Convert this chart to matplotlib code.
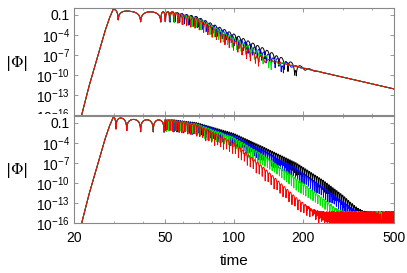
import numpy as np
import matplotlib.pyplot as plt
from matplotlib.patches import Rectangle
from matplotlib.ticker import FixedLocator, NullFormatter

plt.rcParams['font.family'] = ['Liberation Sans', 'DejaVu Sans']
plt.rcParams['mathtext.fontset'] = 'custom'
plt.rcParams['mathtext.rm'] = 'Liberation Sans'
plt.rcParams['mathtext.it'] = 'Liberation Sans:italic'

# values (log10 of |Phi| at a few times)
x_ticks = [20, 50, 100, 200, 500]
y_ticks = [1e-16, 1e-13, 1e-10, 1e-7, 1e-4, 0.1]
y_labels = [r'$10^{-16}$', r'$10^{-13}$', r'$10^{-10}$', r'$10^{-7}$', r'$10^{-4}$', '0.1']

series = ['black', 'blue', 'green', 'red']
line_colors = ['black', '#0000ff', '#00e600', '#ff0000']

# common initial pulse
early_t = [20.0, 21.6, 23.0, 25.1, 27.0, 28.5, 29.7, 35.0, 45.0]
early_lv = [-20.5, -16.0, -12.3, -7.8, -4.0, -1.6, -0.15, -0.5, -0.6]

# dips of the first slow ringing
top_dips = [31.2, 39.1, 47.9]
bot_dips = [30.5, 34.0, 39.1, 44.4, 49.5]

# envelope of the fast ringing
late_t = [54, 69, 100, 134, 187, 245, 300, 360, 500]
top_lv = {
    'black': [-0.55, -1.3, -3.9, -6.0, -8.7, -10.8, -12.5, -14.0, -17.0],
    'blue': [-0.6, -1.4, -4.2, -6.5, -9.3, -11.6, -13.4, -15.0, -18.5],
    'green': [-0.6, -1.5, -4.5, -7.0, -10.0, -12.5, -14.5, -16.2, -20.0],
    'red': [-0.6, -1.6, -4.9, -7.6, -10.8, -13.5, -15.6, -17.5, -21.5],
}
bot_lv = {
    'black': [-0.55, -1.0, -2.6, -4.6, -7.0, -9.6, -11.9, -14.4, -20.0],
    'blue': [-0.6, -1.1, -2.9, -5.1, -7.8, -10.6, -12.8, -15.3, -21.0],
    'green': [-0.6, -1.2, -3.2, -5.8, -9.3, -12.3, -14.8, -17.3, -23.0],
    'red': [-0.6, -1.3, -4.0, -7.6, -12.2, -15.3, -18.0, -20.5, -26.0],
}
# late-time power-law tail (top panel only)
tail_t = [60, 134, 190, 500]
tail_lv = [-4.9, -7.6, -8.8, -12.1]

# ringing rate per unit log(time)
top_k = [66, 68, 70, 73]
bot_k = [160, 145, 130, 105]
noise_freq = [37.3, 41.7, 29.9, 53.1]

t = np.geomspace(20, 500, 8000)
lt = np.log(t)


def envelope(lv):
    return 10 ** np.interp(lt, np.log(early_t + late_t), early_lv + lv)


def phase(dips, k):
    kt = [20.0, 29.7] + dips
    kp = [0.0, 0.0] + [np.pi / 2 + np.pi * i for i in range(len(dips))]
    p = np.interp(lt, np.log(kt), kp)
    after = t > dips[-1]
    p[after] = kp[-1] + k * np.log(t[after] / dips[-1])
    return p


tail = np.where(t > 60, 10 ** np.interp(lt, np.log(tail_t), tail_lv), 0.0)

fig = plt.figure(figsize=(4.07, 2.73), dpi=100)
ax1 = fig.add_axes([0.1818, 0.5788, 0.7862, 0.3919])
ax2 = fig.add_axes([0.1818, 0.1832, 0.7862, 0.3919])

for i, name in enumerate(series):
    env = envelope(top_lv[name])
    ph = phase(top_dips, top_k[i])
    v = np.abs(env * np.cos(ph) + tail) + 0.03 * env
    ax1.plot(t, v, color=line_colors[i], lw=0.7)

    env = envelope(bot_lv[name])
    ph = phase(bot_dips, bot_k[i])
    a = noise_freq[i]
    jitter = np.abs(np.sin(a * t + i) * np.cos(1.7 * a * t + 2 * i)) ** 0.5
    noise = np.where(t > 100, 10 ** (-16.6 + 2.3 * jitter), 0.0)
    v = env * (np.abs(np.cos(ph)) + 0.015) + noise
    ax2.plot(t, v, color=line_colors[i], lw=0.7)

for ax in (ax1, ax2):
    ax.set_xscale('log')
    ax.set_yscale('log')
    ax.set_xlim(20, 500)
    ax.set_ylim(1e-16, 1)
    ax.xaxis.set_major_locator(FixedLocator(x_ticks))
    ax.yaxis.set_major_locator(FixedLocator(y_ticks))
    ax.yaxis.set_minor_locator(FixedLocator([]))
    ax.set_yticklabels(y_labels)
    ax.xaxis.set_minor_formatter(NullFormatter())
    ax.tick_params(which='both', direction='in', top=True, right=True,
                   color='#888888', labelsize=10)
    ax.tick_params(which='major', length=3, width=0.6)
    ax.tick_params(which='minor', length=1.5, width=0.5)
    ax.tick_params(axis='y', pad=3)
    ax.tick_params(axis='x', pad=6)
    for sp in ax.spines.values():
        sp.set_color('#888888')
        sp.set_linewidth(0.8)

ax1.set_xticklabels([])
ax2.set_xticklabels([str(x) for x in x_ticks])
ax2.set_xlabel('time', fontsize=11, labelpad=6)

# the lower plot covers the lowest label of the upper one
ax2.add_patch(Rectangle((0, 0), 0.178, 0.584, transform=fig.transFigure,
                        facecolor='white', edgecolor='none', clip_on=False, zorder=1))

fig.text(0.04, 1 - 63 / 273, r'$|\Phi|$', fontsize=11, family='Liberation Serif',
         ha='center', va='center', math_fontfamily='dejavuserif')
fig.text(0.04, 1 - 170 / 273, r'$|\Phi|$', fontsize=11, family='Liberation Serif',
         ha='center', va='center', math_fontfamily='dejavuserif')

fig.savefig('out.png', dpi=100)
